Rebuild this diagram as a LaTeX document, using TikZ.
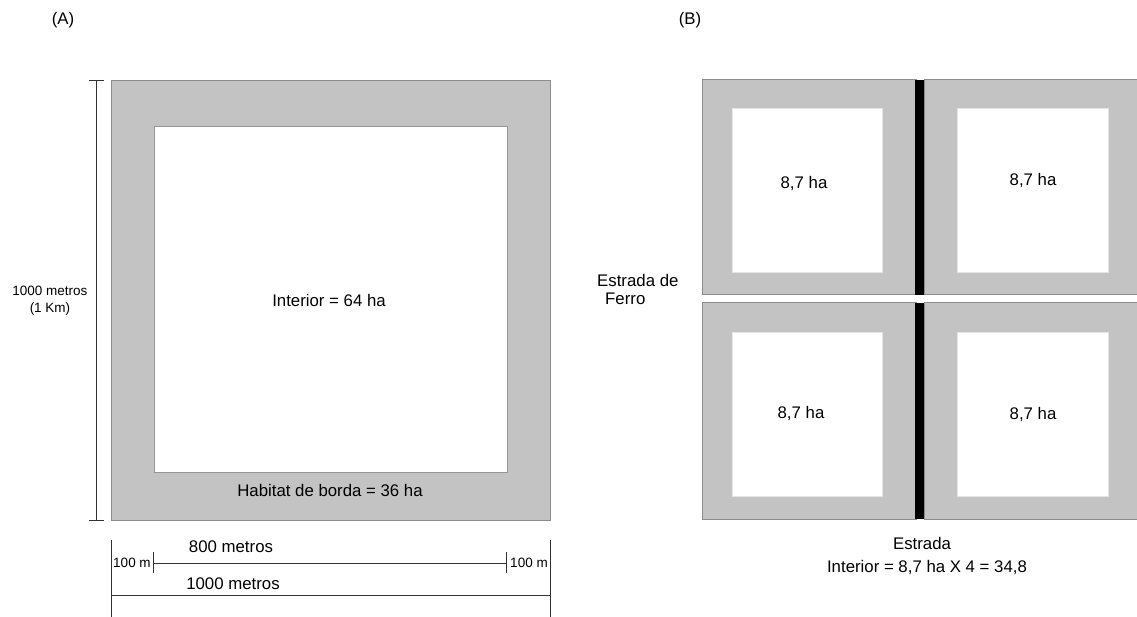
\documentclass[tikz,border=0pt]{standalone}
\usepackage{fontspec}
\setmainfont{Liberation Sans}
\begin{document}
\begin{tikzpicture}[x=1pt,y=-1pt,
  txt/.style={inner sep=0pt,font=\fontsize{16.8}{19}\selectfont,text=black},
  small/.style={inner sep=0pt,font=\fontsize{13.5}{17}\selectfont,text=black,align=center},
  edge/.style={fill=edgegray,draw=bordergray,line width=1pt},
  hole/.style={fill=white,draw=holeborder,line width=0.8pt},
  dim/.style={draw=black!80,line width=1pt}]
\definecolor{edgegray}{RGB}{195,195,195}
\definecolor{bordergray}{RGB}{140,140,140}
\definecolor{holeborder}{RGB}{150,150,150}
\useasboundingbox (0,0) rectangle (1137,617);
\fill[white] (0,0) rectangle (1137,617);
% ---------- Panel A ----------
\node[txt] (labA) at (63,20) {(A)};
\draw[edge] (111,81) rectangle (550,520);
\draw[hole] (154,126) rectangle (507,472);
\node[txt] (intA) at (329,300) {Interior = 64 ha};
\node[txt] (borda) at (330,490) {Habitat de borda = 36 ha};
% vertical dimension
\coordinate (vt) at (96,81);
\coordinate (vb) at (96,520);
\draw[dim] (vt) -- (vb);
\draw[dim] (89,81) -- (104,81);
\draw[dim] (89,520) -- (104,520);
\node[small] (vlab) at (50,301) {1000 metros\\(1 Km)};
% bottom dimensions
\coordinate (l1) at (111,540);
\coordinate (l2) at (111,617);
\coordinate (r1) at (550,540);
\coordinate (r2) at (550,617);
\draw[dim] (l1) -- (l2);
\draw[dim] (r1) -- (r2);
\coordinate (a8) at (153,563);
\coordinate (b8) at (506,563);
\draw[dim] (a8) -- (b8);
\draw[dim] (153,552) -- (153,573);
\draw[dim] (506,552) -- (506,573);
\node[small] (m1) at (132,563) {100 m};
\node[small] (m2) at (529,563) {100 m};
\node[txt] (m800) at (231,547) {800 metros};
\draw[dim] (111,595) -- (550,595);
\node[txt] (m1000) at (233,584) {1000 metros};
% ---------- Panel B ----------
\node[txt] (labB) at (690,20) {(B)};
\draw[edge] (702,80) rectangle (916,295);
\draw[edge] (924,80) rectangle (1140,295);
\draw[edge] (702,303) rectangle (916,519);
\draw[edge] (924,303) rectangle (1140,519);
\fill[black] (915,80) rectangle (924,295);
\fill[black] (915,303) rectangle (924,519);
\draw[hole,draw=white!90!black] (732,108) rectangle (882,272);
\draw[hole,draw=white!90!black] (957,108) rectangle (1108,272);
\draw[hole,draw=white!90!black] (732,332) rectangle (882,496);
\draw[hole,draw=white!90!black] (957,332) rectangle (1108,496);
\node[txt] (q1) at (804,183) {8,7 ha};
\node[txt] (q2) at (1033,180) {8,7 ha};
\node[txt] (q3) at (801,413) {8,7 ha};
\node[txt] (q4) at (1033,414) {8,7 ha};
\node[txt,anchor=west] (ef1) at (597,280) {Estrada de};
\node[txt,anchor=west] (ef2) at (605,299) {Ferro};
\node[txt] (estr) at (922,543) {Estrada};
\node[txt] (intB) at (927,567) {Interior = 8,7 ha X 4 = 34,8};
\end{tikzpicture}
\end{document}
